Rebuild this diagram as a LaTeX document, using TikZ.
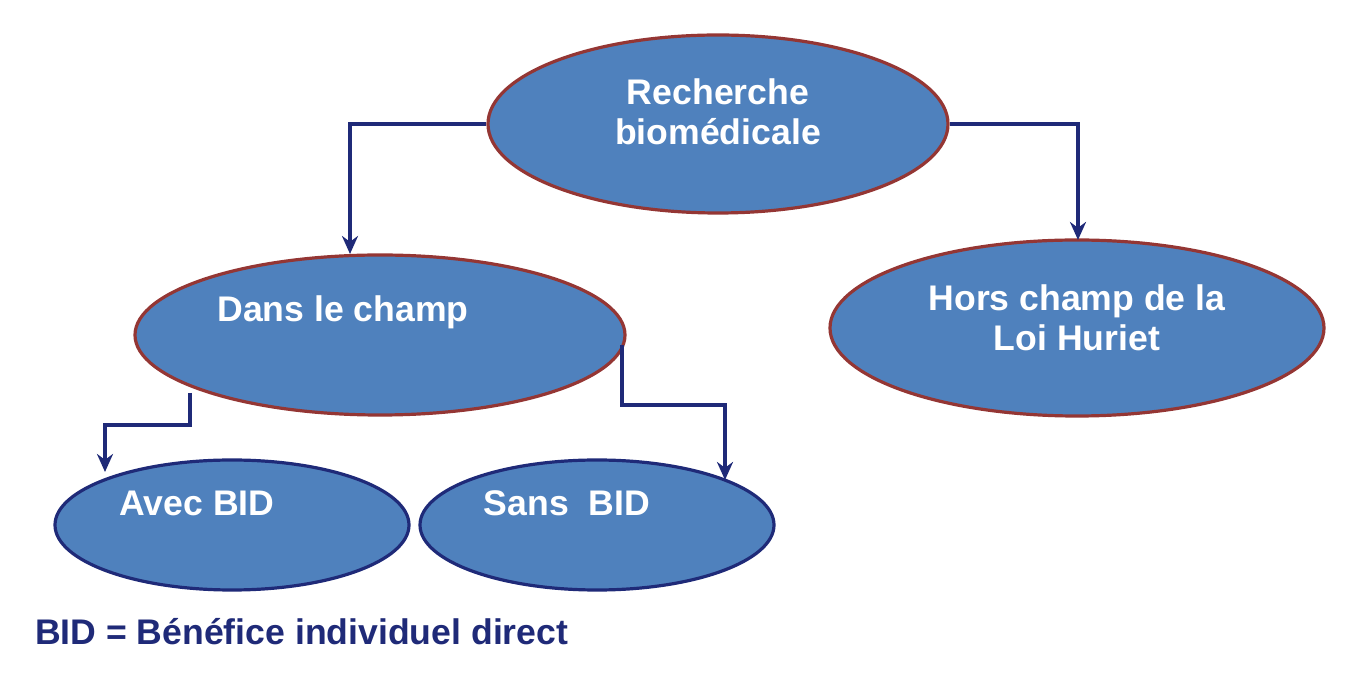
\documentclass[tikz,border=0pt]{standalone}
\usepackage{fontspec}
\setmainfont{Liberation Sans}
\usetikzlibrary{shapes.geometric,arrows.meta}
\definecolor{fillb}{HTML}{4F81BD}
\definecolor{redb}{HTML}{943634}
\definecolor{navy}{HTML}{1F2A78}
\begin{document}
\begin{tikzpicture}[x=0.5pt,y=-0.5pt,
  ell/.style={ellipse,draw=redb,fill=fillb,line width=1.6pt,inner sep=0pt},
  ellb/.style={ell,draw=navy},
  lbl/.style={text=white,font=\bfseries\fontsize{17.8}{20}\selectfont,align=center},
  arr/.style={draw=navy,line width=1.8pt,-{Stealth[length=9pt,width=8pt]}}]
\useasboundingbox (0,0) rectangle (1356,673);
\node[ell,minimum width=230pt,minimum height=89pt] (r) at (718,124) {};
\node[lbl] (rt) at (718,112) {Recherche\\biomédicale};
\node[ell,minimum width=245pt,minimum height=80pt] (d) at (380,335) {};
\node[lbl] (dt) at (343,312) {Dans le champ};
\node[ell,minimum width=247pt,minimum height=88pt] (h) at (1077,328) {};
\node[lbl] (ht) at (1077,318) {Hors champ de la\\Loi Huriet};
\node[ellb,minimum width=177pt,minimum height=65pt] (a) at (232,525) {};
\node[lbl] (at) at (197,503) {Avec BID};
\node[ellb,minimum width=177pt,minimum height=65pt] (s) at (597,525) {};
\node[lbl] (st) at (567,503) {Sans\ \ BID};
\node[text=navy,font=\bfseries\fontsize{17.8}{20}\selectfont,anchor=west] (n) at (28,632) {BID = Bénéfice individuel direct};
\coordinate (c1) at (350,124);
\coordinate (c1e) at (350,254);
\coordinate (c2) at (1078,124);
\coordinate (c2e) at (1078,240);
\coordinate (c3s) at (190,393);
\coordinate (c3a) at (190,425);
\coordinate (c3b) at (105,425);
\coordinate (c3e) at (105,472);
\coordinate (c4s) at (622,345);
\coordinate (c4a) at (622,405);
\coordinate (c4b) at (725,405);
\coordinate (c4e) at (725,480);
\draw[arr] (r.west) -- (c1) -- (c1e);
\draw[arr] (r.east) -- (c2) -- (c2e);
\draw[arr] (c3s) -- (c3a) -- (c3b) -- (c3e);
\draw[arr] (c4s) -- (c4a) -- (c4b) -- (c4e);
\end{tikzpicture}
\end{document}
